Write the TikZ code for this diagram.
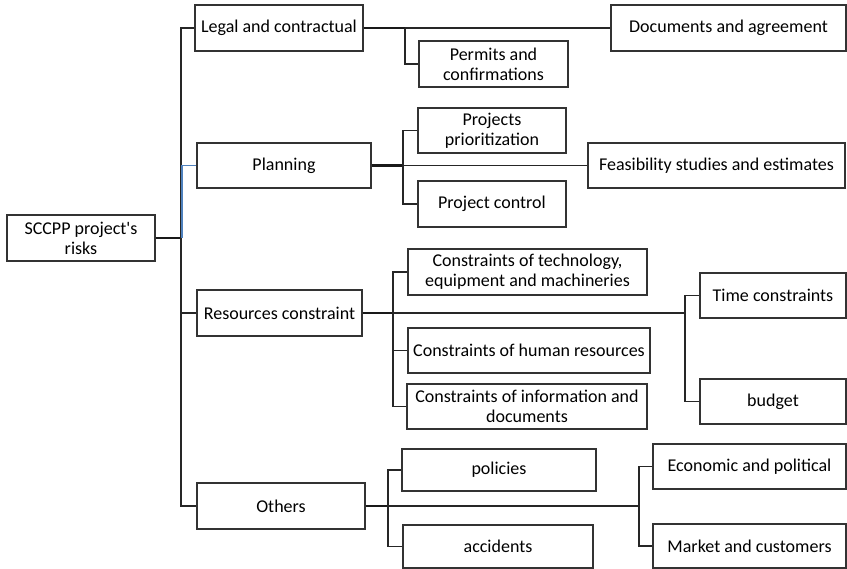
\documentclass[tikz,border=0pt]{standalone}
\usepackage{fontspec}
\setmainfont{Carlito}
\definecolor{branchblue}{RGB}{79,129,189}
\begin{document}
\begin{tikzpicture}[x=1pt,y=-1pt,
  box/.style={draw=black!80, line width=1.3pt, rectangle, align=center,
    inner sep=0pt, font=\fontsize{18}{20}\selectfont},
  link/.style={draw=black!85, line width=1.3pt},
  heavy/.style={draw=black!90, line width=2.2pt},
  midlink/.style={draw=black!85, line width=1.7pt},
  bluelink/.style={draw=branchblue, line width=1.5pt}]
\useasboundingbox (0,0) rectangle (847,569);

% root
\node[box, minimum width=148pt, minimum height=46pt] (root) at (81,238) {SCCPP project\textquotesingle s\\risks};

% first level
\node[box, minimum width=168pt, minimum height=46pt] (legal) at (279,28) {Legal and contractual};
\node[box, minimum width=174pt, minimum height=45pt] (plan) at (284,165.5) {Planning};
\node[box, minimum width=165pt, minimum height=46pt] (res) at (279.5,313) {Resources constraint};
\node[box, minimum width=168pt, minimum height=46pt] (oth) at (281,506) {Others};

% legal and contractual
\node[box, minimum width=235pt, minimum height=46pt] (docs) at (728.5,28) {Documents and agreement};
\node[box, minimum width=149pt, minimum height=46pt] (perm) at (493.5,64) {Permits and\\confirmations};

% planning
\node[box, minimum width=148pt, minimum height=45pt] (prio) at (492,130.5) {Projects\\prioritization};
\node[box, minimum width=257pt, minimum height=45pt] (feas) at (716.5,165.5) {Feasibility studies and estimates};
\node[box, minimum width=148pt, minimum height=46pt] (ctrl) at (492,204) {Project control};

% resources
\node[box, minimum width=239pt, minimum height=46pt] (tech) at (527.5,272) {Constraints of technology,\\equipment and machineries};
\node[box, minimum width=242pt, minimum height=45pt] (hum) at (529,350.5) {Constraints of human resources};
\node[box, minimum width=240pt, minimum height=45pt] (info) at (527,406.5) {Constraints of information and\\documents};
\node[box, minimum width=146pt, minimum height=45pt] (time) at (773,295.5) {Time constraints};
\node[box, minimum width=146pt, minimum height=45pt] (budg) at (773,401.5) {budget};

% others
\node[box, minimum width=194pt, minimum height=42pt] (pol) at (499,470) {policies};
\node[box, minimum width=190pt, minimum height=43pt] (acc) at (498,546.5) {accidents};
\node[box, minimum width=193pt, minimum height=45pt] (econ) at (749.5,466.5) {Economic and political};
\node[box, minimum width=193pt, minimum height=44pt] (mkt) at (749.5,546) {Market and customers};

% junction points
\coordinate (tj) at (181,238);
\coordinate (lj) at (405,28);
\coordinate (pj) at (403,165.5);
\coordinate (rj) at (393,313);
\coordinate (rj2) at (685,313);
\coordinate (oj) at (388,506);
\coordinate (oj2) at (639,506);

% trunk
\draw[heavy] (root.east) -- (tj);
\draw[link] (tj) |- (legal.west);
\draw[link] (tj) |- (res.west);
\draw[link] (tj) |- (oth.west);
\draw[bluelink] ([xshift=1.2pt]tj) |- (plan.west);

% legal branch
\draw[heavy] (legal.east) -- (lj);
\draw[link] (lj) -- (docs.west);
\draw[link] (lj) |- (perm.west);

% planning branch
\draw[heavy] (plan.east) -- (pj);
\draw[link] (pj) -- (feas.west);
\draw[link] (pj) |- (prio.west);
\draw[link] (pj) |- (ctrl.west);

% resources branch
\draw[heavy] (res.east) -- (rj);
\draw[midlink] (rj) -- (rj2);
\draw[link] (rj) |- (tech.west);
\draw[midlink] (rj) |- (hum.west);
\draw[link] (rj) |- (info.west);
\draw[link] (rj2) |- (time.west);
\draw[link] (rj2) |- (budg.west);

% others branch
\draw[heavy] (oth.east) -- (oj);
\draw[midlink] (oj) -- (oj2);
\draw[link] (oj) |- (pol.west);
\draw[link] (oj) |- (acc.west);
\draw[link] (oj2) |- (econ.west);
\draw[link] (oj2) |- (mkt.west);
\end{tikzpicture}
\end{document}
